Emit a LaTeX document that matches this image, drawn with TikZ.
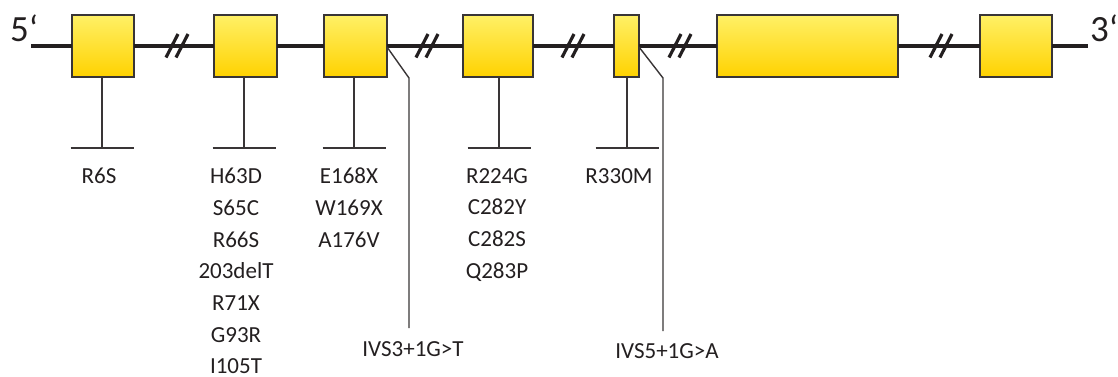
\documentclass[tikz,border=0pt]{standalone}
\usepackage{fontspec}
\setmainfont{Carlito}
\definecolor{ink}{HTML}{231F20}
\definecolor{exontop}{HTML}{FFF066}
\definecolor{exonbot}{HTML}{FFD200}
\begin{document}
\begin{tikzpicture}[x=1pt,y=-1pt,
  exon/.style={draw=ink!90,line width=1.4pt,top color=exontop,bottom color=exonbot,
    minimum height=62pt,inner sep=0pt,outer sep=0pt},
  backbone/.style={draw=ink,line width=3.6pt},
  brk/.style={draw=ink,line width=3.2pt},
  stem/.style={draw=ink!90,line width=1.4pt},
  mut/.style={text=ink,font=\fontsize{23}{31.7}\selectfont,align=center,inner sep=0pt,anchor=north},
  endlbl/.style={text=ink,font=\fontsize{37}{40}\selectfont,inner sep=0pt}
]
\useasboundingbox (0,0) rectangle (1118,376);
% end points
\coordinate (s5) at (31,46);
\coordinate (s3) at (1088,46);
% exons
\node[exon,minimum width=62pt] (b1) at (103,46) {};
\node[exon,minimum width=63pt] (b2) at (245.5,46) {};
\node[exon,minimum width=63pt] (b3) at (355.5,46) {};
\node[exon,minimum width=70pt] (b4) at (498,46) {};
\node[exon,minimum width=25pt] (b5) at (626.5,46) {};
\node[exon,minimum width=181pt] (b6) at (807.5,46) {};
\node[exon,minimum width=72pt] (b7) at (1016,46) {};
% backbone
\begin{scope}[on background layer/.style={}]
\draw[backbone] (s5) -- (b1);
\draw[backbone] (b1) -- (b2);
\draw[backbone] (b2) -- (b3);
\draw[backbone] (b3) -- (b4);
\draw[backbone] (b4) -- (b5);
\draw[backbone] (b5) -- (b6);
\draw[backbone] (b6) -- (b7);
\draw[backbone] (b7) -- (s3);
\end{scope}
% break marks
\foreach \bx in {177,427,573,680,941}{
  \draw[brk] (\bx-11,57.5) -- (\bx+1,34);
  \draw[brk] (\bx-1,57.5) -- (\bx+11,34);
}
% end labels
\node[endlbl,anchor=west] (l5) at (10,28) {5‘};
\node[endlbl,anchor=west] (l3) at (1090,28) {3‘};
% stems with T-bars
\foreach \b/\x in {b1/102,b2/244,b3/354,b4/499,b5/627}{
  \coordinate (t\b) at (\x,148);
  \draw[stem] (\b.south -| t\b) -- (t\b);
  \draw[stem] ([xshift=-31.5pt]t\b) -- ([xshift=31.5pt]t\b);
}
% splice lines
\coordinate (k3) at (409,78);
\coordinate (e3) at (409,328);
\coordinate (k5) at (663,78);
\coordinate (e5) at (663,331);
\draw[stem] ([yshift=-1pt]b3.east) -- (k3) -- (e3);
\draw[stem] ([yshift=-1pt]b5.east) -- (k5) -- (e5);
% mutation labels
\node[mut] (m1) at (99,168) {R6S};
\node[mut] (m2) at (236,168) {H63D\\S65C\\R66S\\203delT\\R71X\\G93R\\I105T};
\node[mut] (m3) at (349,168) {E168X\\W169X\\A176V};
\node[mut] (m4) at (497,168) {R224G\\C282Y\\C282S\\Q283P};
\node[mut] (m5) at (619,168) {R330M};
\node[mut] (m6) at (413,341) {IVS3+1G>T};
\node[mut] (m7) at (667,343) {IVS5+1G>A};
\end{tikzpicture}
\end{document}
